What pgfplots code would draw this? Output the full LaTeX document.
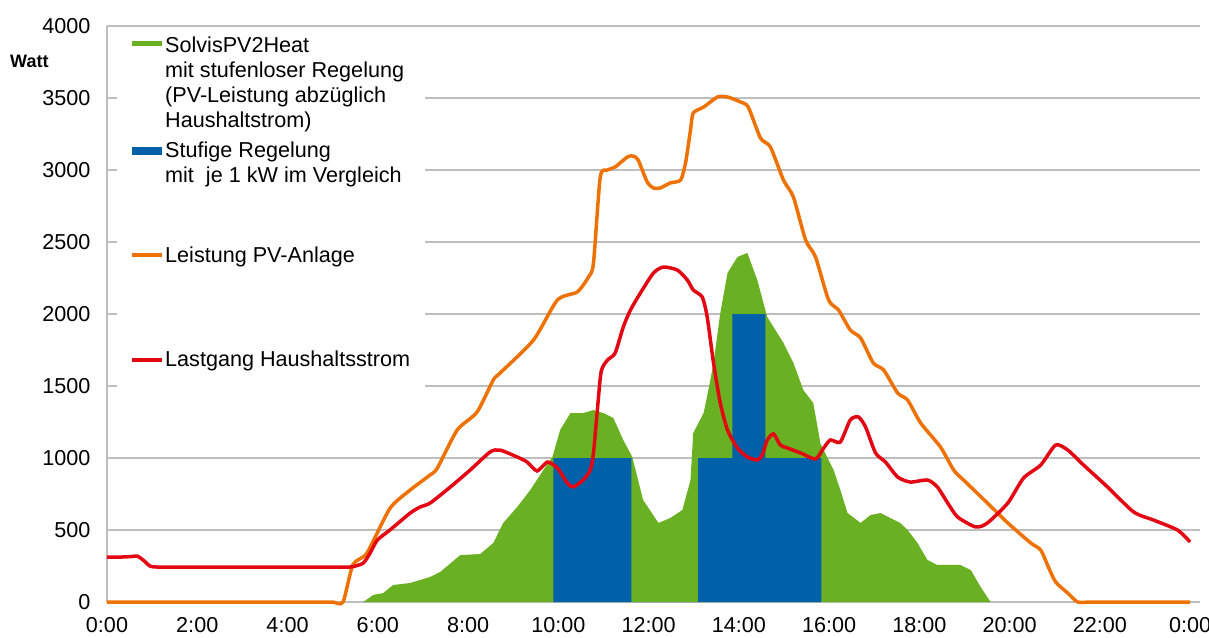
\documentclass[border=0pt]{standalone}
\usepackage{fontspec}
\setmainfont{Liberation Sans}
\usepackage{pgfplots}
\pgfplotsset{compat=1.18}
\definecolor{pvgreen}{RGB}{106,176,35}
\definecolor{stblue}{RGB}{0,96,168}
\definecolor{pvorange}{RGB}{238,114,3}
\definecolor{lastred}{RGB}{227,6,19}
\definecolor{gridgray}{RGB}{190,190,190}
\newcommand{\lfont}{\fontsize{21.6pt}{25pt}\selectfont}
\begin{document}
\begin{tikzpicture}
\useasboundingbox (-107pt,-35pt) rectangle (1102pt,602pt);
\begin{axis}[
  at={(0pt,0pt)}, anchor=south west,
  scale only axis, width=1093pt, height=576pt,
  xmin=0, xmax=24.22, ymin=0, ymax=4000,
  clip=false,
  xtick={0,2,...,24},
  xticklabels={0:00,2:00,4:00,6:00,8:00,10:00,12:00,14:00,16:00,18:00,20:00,22:00,0:00},
  ytick={0,500,...,4000},
  ymajorgrids, grid style={gridgray, line width=1.5pt},
  axis x line*=bottom, axis y line*=left,
  axis line style={gridgray, line width=1.5pt, -},
  xtick style={draw=none},
  ytick style={gridgray, line width=1.5pt},
  tick align=inside, major tick length=10pt,
  ticklabel style={font=\lfont, text=black},
  yticklabel style={/pgf/number format/1000 sep=, /pgf/number format/assume math mode=true, xshift=-13pt},
  xticklabel style={yshift=-12pt},
]
% stufenlose Regelung (green area)
\addplot[fill=pvgreen, draw=none]
coordinates {
(5.68,0) (5.90,49) (6.12,62) (6.34,118) (6.72,132) (7.16,174) (7.38,208) (7.83,326)
(8.27,333) (8.56,410) (8.78,549) (9.09,660) (9.38,778) (9.67,917) (9.87,1007)
(10.04,1194) (10.27,1312) (10.55,1312) (10.78,1333) (11.00,1312) (11.22,1278)
(11.44,1125) (11.64,1007) (11.88,708) (12.22,549) (12.48,583) (12.75,639) (12.93,847)
(12.99,1173) (13.22,1312) (13.37,1542) (13.44,1660) (13.59,2007) (13.75,2285)
(13.97,2396) (14.19,2424) (14.41,2236) (14.63,1979) (14.99,1799) (15.21,1660)
(15.43,1472) (15.65,1382) (15.81,1100) (16.10,917) (16.25,778) (16.41,618)
(16.70,549) (16.92,604) (17.14,618) (17.58,549) (17.74,500) (17.96,410) (18.18,292)
(18.40,257) (18.91,257) (19.14,222) (19.36,104) (19.58,0)
} \closedcycle;
% stufige Regelung (blue)
\addplot[fill=stblue, draw=none]
coordinates {
(9.89,0) (9.89,1000) (11.62,1000) (11.62,0) (13.10,0) (13.10,1000) (13.86,1000)
(13.86,2000) (14.59,2000) (14.59,1000) (15.83,1000) (15.83,0)
} \closedcycle;
% Leistung PV-Anlage
\addplot[pvorange, line width=3.5pt, smooth, tension=0.4]
coordinates {
(0,0) (1,0) (2,0) (3,0) (4,0) (4.7,0) (5.0,0) (5.23,0) (5.45,260) (5.76,340) (6.27,650)
(6.72,778) (7.16,882)
(7.32,930) (7.76,1194) (8.20,1319) (8.56,1542) (8.71,1590) (9.45,1819) (9.98,2097)
(10.42,2153) (10.67,2257) (10.78,2354) (10.93,2951) (11.09,3000) (11.26,3021)
(11.53,3090) (11.66,3097) (11.77,3069) (11.97,2917) (12.11,2875) (12.26,2875)
(12.48,2910) (12.71,2930) (12.82,3049) (12.93,3278) (12.99,3396) (13.22,3437)
(13.53,3507) (13.75,3507) (14.04,3472) (14.21,3437) (14.48,3222) (14.70,3160)
(14.99,2930) (15.21,2812) (15.48,2514) (15.70,2396) (15.99,2097) (16.21,2028)
(16.47,1889) (16.70,1833) (16.98,1660) (17.21,1611) (17.52,1451) (17.74,1403)
(18.03,1243) (18.47,1076) (18.76,917) (18.98,847) (19.51,687) (19.96,549)
(20.47,410) (20.69,361) (20.86,243) (21.02,139) (21.29,62) (21.51,0) (21.8,0)
(22.3,0) (23,0) (23.5,0) (24,0)
};
% Lastgang Haushaltsstrom
\addplot[lastred, line width=3.5pt, smooth, tension=0.4]
coordinates {
(0,312) (0.3,312) (0.55,316) (0.67,319) (0.80,292) (0.95,250) (1.1,243) (1.5,243)
(2,243) (2.5,243) (3,243) (3.5,243) (4,243) (4.5,243) (5,243) (5.3,243) (5.45,245)
(5.68,271) (5.83,340)
(5.99,430) (6.27,500) (6.72,618) (6.94,660) (7.16,687) (7.61,799) (8.05,917)
(8.49,1042) (8.71,1055) (9.09,1007) (9.31,972) (9.53,910) (9.76,972) (9.98,930)
(10.20,826) (10.33,799) (10.55,847) (10.71,917) (10.78,1035) (10.86,1312)
(10.95,1600) (11.09,1680) (11.26,1729) (11.44,1910) (11.60,2028) (11.82,2146)
(12.11,2285) (12.33,2326) (12.64,2305) (12.86,2236) (12.99,2167) (13.19,2118)
(13.30,1979) (13.44,1660) (13.59,1382) (13.75,1194) (13.97,1069) (14.19,1007)
(14.41,986) (14.52,1021) (14.63,1125) (14.77,1167) (14.92,1090) (15.08,1069)
(15.37,1035) (15.70,993) (15.88,1069) (16.03,1125) (16.25,1111) (16.47,1264)
(16.65,1285) (16.81,1215) (17.03,1035) (17.25,972) (17.52,868) (17.80,833)
(18.18,847) (18.40,799) (18.63,687) (18.85,590) (19.25,521) (19.51,549) (19.96,687)
(20.31,861) (20.69,951) (21.02,1090) (21.29,1055) (21.64,951) (22.17,799)
(22.75,625) (23.19,569) (23.72,500) (24.0,417)
};
\end{axis}
% legend (manual, white background covering the grid lines)
\fill[white] (10pt,206pt) rectangle (318pt,574pt);
\fill[pvgreen] (25pt,555.5pt) rectangle (55pt,560.5pt);
\fill[stblue] (25pt,447pt) rectangle (55pt,455pt);
\draw[pvorange, line width=3.5pt] (25pt,347pt) -- (55pt,347pt);
\draw[lastred, line width=3.5pt] (25pt,242pt) -- (55pt,242pt);
\begin{scope}[every node/.style={anchor=base west, inner sep=0pt, font=\lfont}]
\node at (58pt,549pt) {\vtop{\hbox{SolvisPV2Heat}\hbox{mit stufenloser Regelung}\hbox{(PV-Leistung abzüglich}\hbox{Haushaltstrom)}}};
\node at (58pt,444pt) {\vtop{\hbox{Stufige Regelung}\hbox{mit\ \ je 1 kW im Vergleich}}};
\node at (58pt,339pt) {Leistung PV-Anlage};
\node at (58pt,235pt) {Lastgang Haushaltsstrom};
\end{scope}
\node[anchor=west, font=\bfseries\fontsize{18pt}{20pt}\selectfont, inner sep=0pt] at (-97pt,541pt) {Watt};
\end{tikzpicture}
\end{document}
